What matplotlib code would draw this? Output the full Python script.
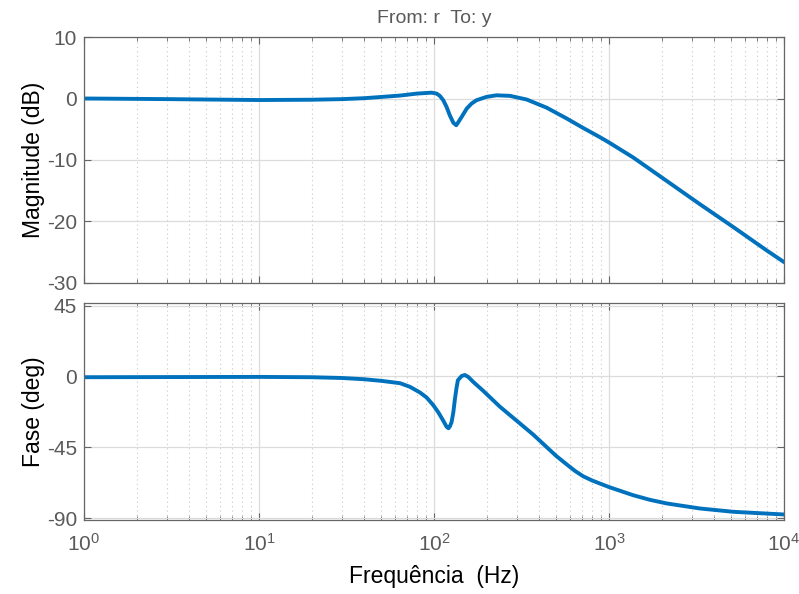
import numpy as np
import matplotlib
matplotlib.use("Agg")
import matplotlib.pyplot as plt
from matplotlib.ticker import LogLocator, NullFormatter

plt.rcParams["font.family"] = ["Liberation Sans", "DejaVu Sans"]
plt.rcParams["mathtext.fontset"] = "custom"
plt.rcParams["mathtext.rm"] = "Liberation Sans"
plt.rcParams["mathtext.it"] = "Liberation Sans"

# Closed loop r -> y: magnitude (dB) and phase (deg) vs frequency (Hz)
mag_freq = [1, 3, 10, 20, 30, 40, 50, 64, 80, 97, 103.5, 108, 113, 118, 123,
            129, 134, 137, 144, 154, 164, 175, 200, 228, 272, 339, 441, 573,
            713, 889, 1000, 1377, 2136, 3311, 5130, 7960, 10000]
mag_db = [0.0, -0.1, -0.25, -0.2, -0.1, 0.05, 0.25, 0.48, 0.8, 0.95, 0.8, 0.43,
          -0.28, -1.36, -2.7, -3.95, -4.35, -3.95, -2.98, -1.63, -0.82, -0.28,
          0.27, 0.52, 0.43, -0.17, -1.5, -3.25, -4.8, -6.3, -7.15, -9.6, -13.4,
          -17.2, -20.9, -24.7, -26.6]

phase_freq = [1, 10, 20, 30, 40, 50, 64, 72.9, 83.2, 90.8, 99, 105.9, 113, 118,
              121, 123, 126, 129, 131.7, 134.6, 137, 144, 150, 157, 167, 191,
              238, 296, 369, 441, 500, 573, 640, 713, 800, 889, 1000, 1377, 1714,
              2136, 3311, 5130, 10000]
phase_deg = [-0.5, -0.3, -0.5, -1.0, -1.8, -2.8, -4.3, -6.6, -10.2, -13.4, -18.2,
             -22.8, -28.1, -31.9, -32.9, -31.9, -29.1, -22.8, -14.4, -7.1, -2.4,
             0.3, 0.9, -0.3, -3.3, -9.1, -19.2, -28.0, -36.9, -44.9, -50.5,
             -55.8, -60.0, -63.4, -66.0, -68.0, -70.2, -75.4, -78.3, -80.6,
             -83.8, -85.9, -87.6]

mag_ticks = [-30, -20, -10, 0, 10]
phase_ticks = [-90, -45, 0, 45]
decades = [1, 10, 100, 1000, 10000]

LINE = "#0072BD"
AX_GRAY = "#666666"
TXT_GRAY = "#5a5a5a"

fig = plt.figure(figsize=(7.99, 5.94), dpi=100)
ax_mag = fig.add_axes([0.1051, 0.5236, 0.8761, 0.4141])
ax_ph = fig.add_axes([0.1051, 0.1246, 0.8761, 0.3653])


def style_axes(ax):
    ax.set_xscale("log")
    ax.set_xlim(1, 1e4)
    ax.xaxis.set_major_locator(LogLocator(base=10, numticks=10))
    ax.xaxis.set_minor_locator(LogLocator(base=10, subs=np.arange(2, 10), numticks=10))
    ax.xaxis.set_minor_formatter(NullFormatter())
    ax.grid(True, which="major", color="#dcdcdc", linewidth=0.9, linestyle="-")
    ax.grid(True, which="minor", axis="x", color="#c8c8c8", linewidth=0.8,
            linestyle=(0, (1, 3)))
    ax.set_axisbelow(True)
    for s in ax.spines.values():
        s.set_color(AX_GRAY)
        s.set_linewidth(0.9)
    ax.tick_params(which="both", direction="in", top=True, right=True,
                   colors=AX_GRAY, labelcolor=TXT_GRAY, labelsize=15)
    ax.tick_params(axis="y", pad=5)
    ax.tick_params(which="major", length=5)
    ax.tick_params(which="minor", length=3)


style_axes(ax_mag)
style_axes(ax_ph)

ax_mag.plot(mag_freq, mag_db, color=LINE, linewidth=2.8, solid_capstyle="round")
ax_mag.set_ylim(-30, 10)
ax_mag.set_yticks(mag_ticks)
ax_mag.set_yticklabels([str(t) for t in mag_ticks])
ax_mag.tick_params(axis="x", labelbottom=False)
ax_mag.set_ylabel("Magnitude (dB)", fontsize=16.5, color="black", labelpad=1)
ax_mag.set_title("From: r  To: y", fontsize=14, color=TXT_GRAY, pad=10)

ax_ph.plot(phase_freq, phase_deg, color=LINE, linewidth=2.8, solid_capstyle="round")
ax_ph.set_ylim(-91.1, 46.6)
ax_ph.set_yticks(phase_ticks)
ax_ph.set_yticklabels([str(t) for t in phase_ticks])
ax_ph.set_xticks(decades)
ax_ph.set_xticklabels([rf"$10^{{{int(np.log10(d))}}}$" for d in decades])
ax_ph.tick_params(axis="x", pad=9)
ax_ph.set_ylabel("Fase (deg)", fontsize=16.5, color="black", labelpad=1)
ax_ph.set_xlabel("Frequência  (Hz)", fontsize=16.5, color="black", labelpad=8)

fig.savefig("out.png", dpi=100)
